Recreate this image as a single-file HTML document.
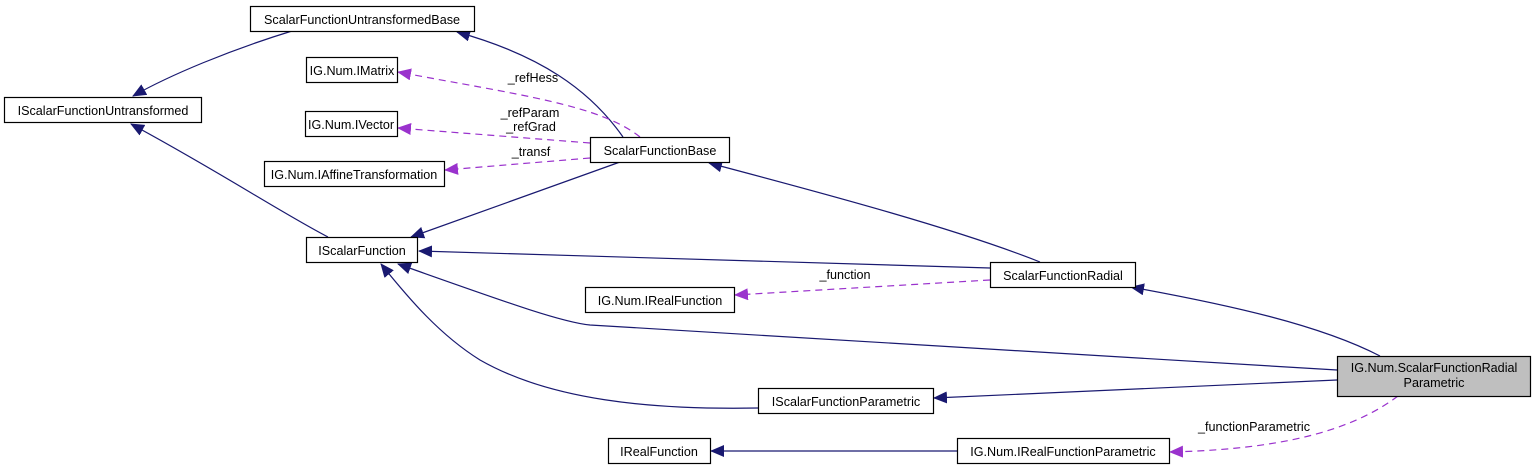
<!DOCTYPE html>
<html><head><meta charset="utf-8"><style>
html,body{margin:0;padding:0;background:#fff;}
svg text{font-family:"Liberation Sans",sans-serif;font-size:12.6px;fill:#000;}
</style></head><body>
<svg width="1536" height="471" viewBox="0 0 1536 471" xmlns="http://www.w3.org/2000/svg">
<defs>
<marker id="a" markerWidth="14" markerHeight="12" refX="13" refY="6" orient="auto" markerUnits="userSpaceOnUse"><path d="M0,0 L14,6 L0,12 Z" fill="#191970"/></marker>
<marker id="p" markerWidth="14" markerHeight="12" refX="13" refY="6" orient="auto" markerUnits="userSpaceOnUse"><path d="M0,0 L14,6 L0,12 Z" fill="#9a32cd"/></marker>
</defs>
<g fill="none" stroke="#191970" stroke-width="1.2">
<path d="M292,31 C230,50 170,75 133,96" marker-end="url(#a)"/>
<path d="M623,137 C590,90 540,55 457,32" marker-end="url(#a)"/>
<path d="M328,237 C280,212 220,172 131,124" marker-end="url(#a)"/>
<path d="M620,162 L411,237" marker-end="url(#a)"/>
<path d="M990,268 L419,251" marker-end="url(#a)"/>
<path d="M1337,370 L590,325 C560,322 500,300 398,264" marker-end="url(#a)"/>
<path d="M758,408 C650,410 550,400 480,360 C440,335 410,300 381,264" marker-end="url(#a)"/>
<path d="M1040,262 C960,230 830,195 709,163" marker-end="url(#a)"/>
<path d="M1380,356 C1320,325 1230,305 1131,287" marker-end="url(#a)"/>
<path d="M1337,380 L934,398" marker-end="url(#a)"/>
<path d="M957,451 L711,451" marker-end="url(#a)"/>
</g>
<g fill="none" stroke="#9a32cd" stroke-width="1.2" stroke-dasharray="7,5">
<path d="M640,137 C600,105 520,95 398,72" marker-end="url(#p)"/>
<path d="M590,143 L398,128" marker-end="url(#p)"/>
<path d="M590,158 L445,170" marker-end="url(#p)"/>
<path d="M990,280 L735,295" marker-end="url(#p)"/>
<path d="M1398,396 C1340,440 1250,450 1170,452" marker-end="url(#p)"/>
</g>
<g stroke="#000" stroke-width="1.2" fill="#fff">
<rect x="250.5" y="6.5" width="224" height="25"/>
<rect x="4.5" y="97.5" width="197" height="25"/>
<rect x="306.5" y="57.5" width="91" height="25"/>
<rect x="305.5" y="111.5" width="92" height="25"/>
<rect x="264.5" y="161.5" width="180" height="25"/>
<rect x="590.5" y="137.5" width="139" height="25"/>
<rect x="306.5" y="237.5" width="111" height="25"/>
<rect x="990.5" y="262.5" width="145" height="25"/>
<rect x="585.5" y="287.5" width="149" height="25"/>
<rect x="1337.5" y="356.5" width="193" height="40" fill="#bfbfbf"/>
<rect x="758.5" y="388.5" width="175" height="25"/>
<rect x="608.5" y="438.5" width="102" height="25"/>
<rect x="957.5" y="438.5" width="212" height="25"/>
</g>
<g text-anchor="middle">
<text x="362" y="24">ScalarFunctionUntransformedBase</text>
<text x="103" y="115">IScalarFunctionUntransformed</text>
<text x="352" y="75">IG.Num.IMatrix</text>
<text x="351" y="129">IG.Num.IVector</text>
<text x="354" y="179">IG.Num.IAffineTransformation</text>
<text x="660" y="155">ScalarFunctionBase</text>
<text x="362" y="255">IScalarFunction</text>
<text x="1063" y="280">ScalarFunctionRadial</text>
<text x="660" y="305">IG.Num.IRealFunction</text>
<text x="1434" y="372">IG.Num.ScalarFunctionRadial</text>
<text x="1434" y="387">Parametric</text>
<text x="846" y="406">IScalarFunctionParametric</text>
<text x="659" y="456">IRealFunction</text>
<text x="1063" y="456">IG.Num.IRealFunctionParametric</text>
<text x="533" y="82">_refHess</text>
<text x="530" y="117">_refParam</text>
<text x="531" y="131">_refGrad</text>
<text x="531" y="156">_transf</text>
<text x="845" y="279">_function</text>
<text x="1254" y="431">_functionParametric</text>
</g>
</svg>
</body></html>
